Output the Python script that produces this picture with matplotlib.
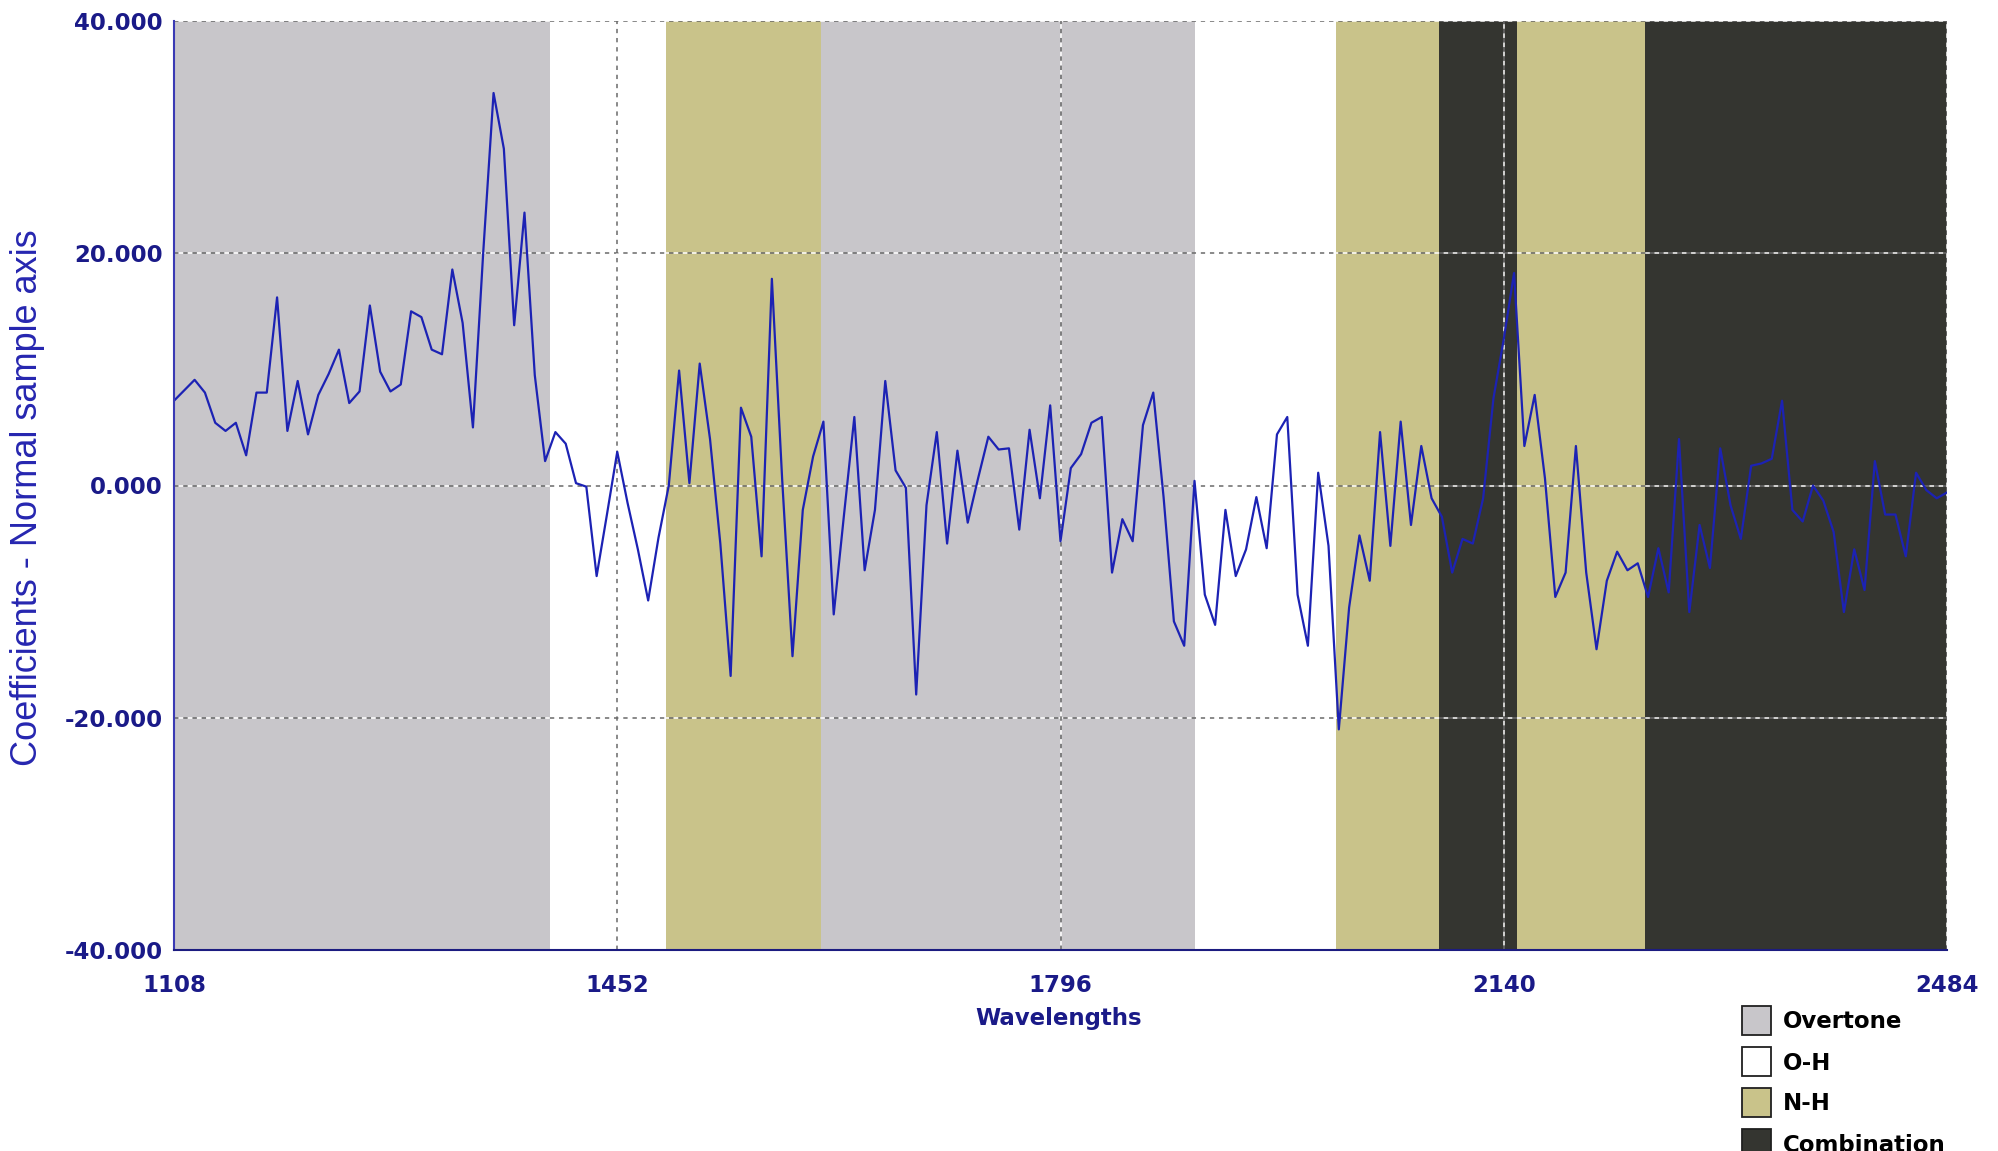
import numpy as np
import matplotlib.pyplot as plt
from matplotlib.patches import Rectangle

# regression coefficients on an 8 nm grid
WAVELENGTHS = np.arange(1108, 2485, 8)
COEFFICIENTS = [
    7.3, 8.2, 9.1, 8.0, 5.4, 4.7, 5.4, 2.6, 8.0, 8.0,
    16.2, 4.7, 9.0, 4.4, 7.8, 9.6, 11.7, 7.1, 8.1, 15.5,
    9.8, 8.1, 8.7, 15.0, 14.5, 11.7, 11.3, 18.6, 14.0, 5.0,
    20.1, 33.8, 29.0, 13.8, 23.5, 9.5, 2.1, 4.6, 3.6, 0.2,
    -0.1, -7.8, -2.5, 2.9, -1.5, -5.5, -9.9, -4.5, 0.0, 9.9,
    0.2, 10.5, 4.0, -5.0, -16.4, 6.7, 4.2, -6.1, 17.8, 0.5,
    -14.7, -2.1, 2.5, 5.5, -11.1, -2.5, 5.9, -7.3, -2.1, 9.0,
    1.3, -0.2, -18.0, -1.7, 4.6, -5.0, 3.0, -3.2, 0.6, 4.2,
    3.1, 3.2, -3.8, 4.8, -1.1, 6.9, -4.8, 1.5, 2.7, 5.4,
    5.9, -7.5, -2.9, -4.8, 5.2, 8.0, -1.0, -11.7, -13.8, 0.4,
    -9.4, -12.0, -2.1, -7.8, -5.5, -1.0, -5.4, 4.4, 5.9, -9.4,
    -13.8, 1.1, -5.2, -21.0, -10.5, -4.3, -8.2, 4.6, -5.2, 5.5,
    -3.4, 3.4, -1.1, -2.7, -7.5, -4.6, -5.0, -1.1, 7.5, 12.6,
    18.3, 3.4, 7.8, 0.6, -9.6, -7.5, 3.4, -7.5, -14.1, -8.2,
    -5.7, -7.3, -6.7, -9.6, -5.4, -9.2, 4.0, -10.9, -3.4, -7.1,
    3.2, -1.7, -4.6, 1.7, 1.9, 2.3, 7.3, -2.1, -3.1, 0.0,
    -1.3, -4.0, -10.9, -5.5, -9.0, 2.1, -2.5, -2.5, -6.1, 1.1,
    -0.4, -1.1, -0.6,
]

# absorption regions
BAND_EDGES = [1108, 1400, 1490, 1610, 1900, 2010, 2090, 2150, 2250, 2484]
BAND_TYPES = ['Overtone', 'O-H', 'N-H', 'Overtone', 'O-H', 'N-H',
              'Combination', 'N-H', 'Combination']
LEGEND_NAMES = ['Overtone', 'O-H', 'N-H', 'Combination']
BAND_COLOURS = {'Overtone': '#c8c6ca', 'O-H': '#ffffff',
                'N-H': '#c9c38a', 'Combination': '#343530'}

X_TICKS = [1108, 1452, 1796, 2140, 2484]
Y_TICKS = [-40, -20, 0, 20, 40]

TICK_BLUE = '#1a1a88'
LINE_BLUE = '#1c22b4'


def dashed(ax, value, vertical):
    # grey and white dashes interleaved so the grid shows on any band
    draw = ax.axvline if vertical else ax.axhline
    draw(value, color='#6a6a6a', lw=1.1, dashes=(3, 3), zorder=2)
    draw(value, color='#ffffff', lw=1.1, dashes=(0, 3, 3, 0), zorder=2)


fig = plt.figure(figsize=(19.98, 11.51), dpi=100)
ax = fig.add_axes([174 / 1998, 1 - 950 / 1151, 1773 / 1998, 929 / 1151])

for lo, hi, name in zip(BAND_EDGES[:-1], BAND_EDGES[1:], BAND_TYPES):
    ax.axvspan(lo, hi, color=BAND_COLOURS[name], lw=0, zorder=1)

for y in Y_TICKS[1:]:
    dashed(ax, y, False)
for x in X_TICKS[1:]:
    dashed(ax, x, True)

ax.plot(WAVELENGTHS, COEFFICIENTS, color=LINE_BLUE, lw=1.6, zorder=3)

ax.set_xlim(X_TICKS[0], X_TICKS[-1])
ax.set_ylim(Y_TICKS[0], Y_TICKS[-1])
ax.set_xticks(X_TICKS)
ax.set_yticks(Y_TICKS)
ax.set_yticklabels(['{:.3f}'.format(v) for v in Y_TICKS])
ax.tick_params(length=0, colors=TICK_BLUE, labelsize=16.5)
ax.tick_params(axis='y', pad=8)
ax.tick_params(axis='x', pad=17)
for lab in ax.get_xticklabels() + ax.get_yticklabels():
    lab.set_fontweight('bold')
    lab.set_fontfamily('DejaVu Sans')

for side in ['top', 'right']:
    ax.spines[side].set_visible(False)
ax.spines['left'].set_color('#3a3ab4')
ax.spines['bottom'].set_color('#1c1c80')
ax.spines['left'].set_linewidth(1.5)
ax.spines['bottom'].set_linewidth(1.5)
ax.spines['left'].set_zorder(4)
ax.spines['bottom'].set_zorder(4)

fig.text(28 / 1998, 1 - 498 / 1151, 'Coefficients - Normal sample axis',
         rotation=90, ha='center', va='center', fontsize=26,
         family='Liberation Sans', color='#2626b0')
fig.text(1059 / 1998, 1 - 1019 / 1151, 'Wavelengths', ha='center',
         va='center', fontsize=16.5, fontweight='bold',
         family='DejaVu Sans', color=TICK_BLUE)

# legend drawn in figure pixels, last row runs off the bottom edge
lay = fig.add_axes([0, 0, 1, 1], zorder=5)
lay.set_xlim(0, 1998)
lay.set_ylim(1151, 0)
lay.axis('off')
lay.patch.set_alpha(0)
for k, name in enumerate(LEGEND_NAMES):
    top = 1006 + 41 * k
    lay.add_patch(Rectangle((1742, top), 29, 29, facecolor=BAND_COLOURS[name],
                            edgecolor='#202020', lw=1.3, clip_on=False))
    lay.text(1783, top + 16, name, ha='left', va='center', fontsize=16.5,
             fontweight='bold', family='DejaVu Sans', color='black',
             clip_on=False)

fig.savefig('out.png', dpi=100)
